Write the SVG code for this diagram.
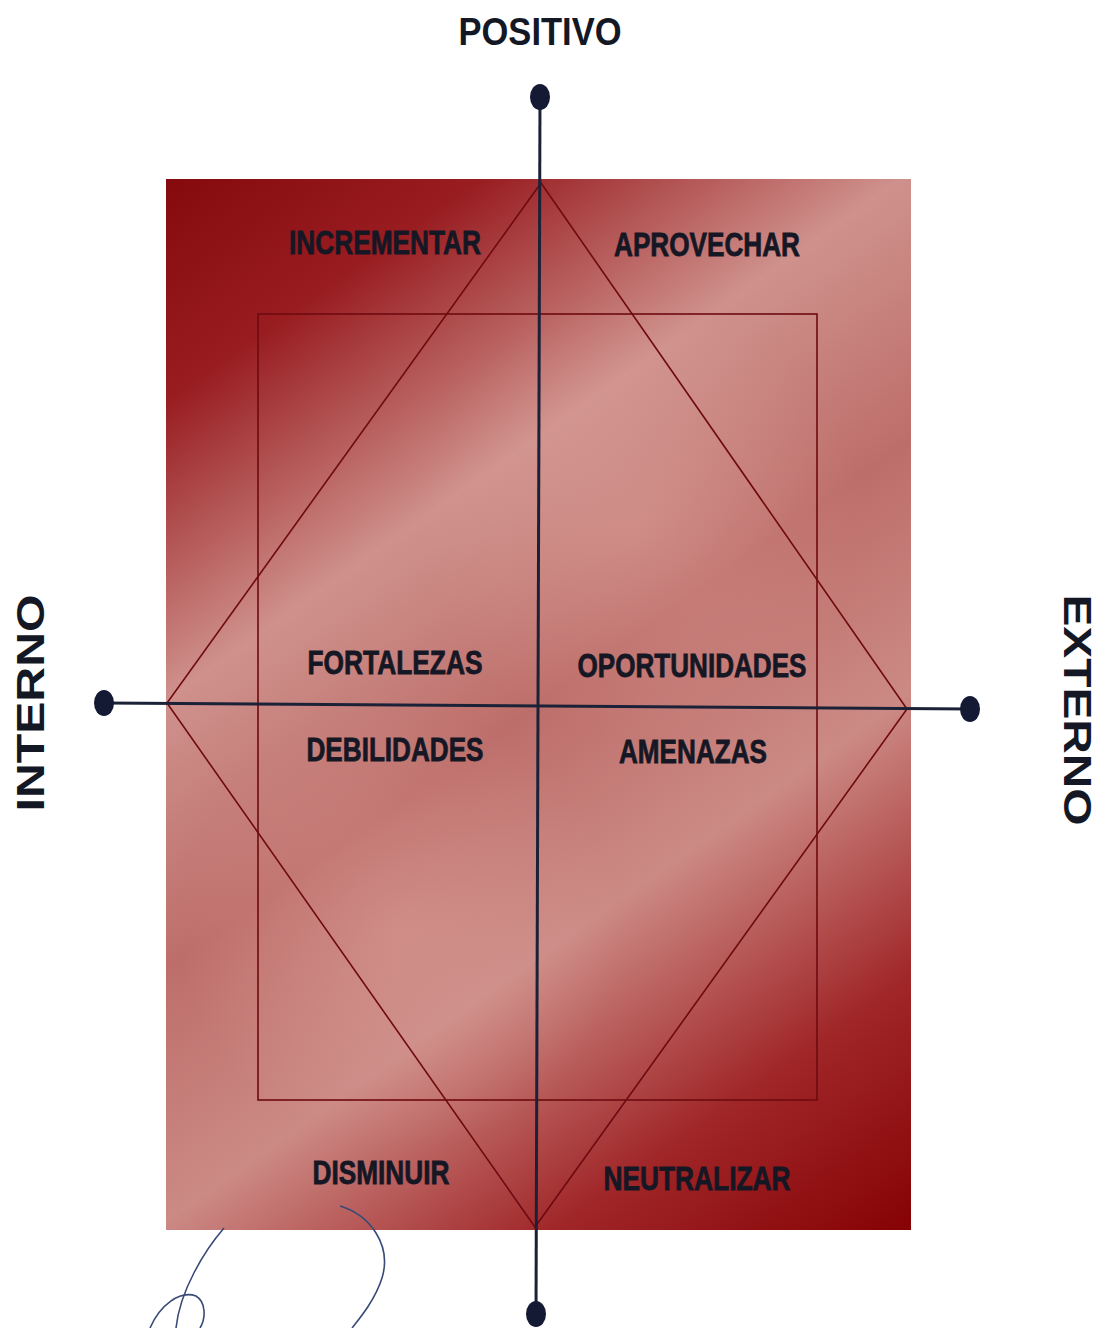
<svg xmlns="http://www.w3.org/2000/svg" width="1102" height="1328" viewBox="0 0 1102 1328">
<defs>
<linearGradient id="bg" x1="166" y1="179" x2="911" y2="1230" gradientUnits="userSpaceOnUse">
<stop offset="0" stop-color="#850a0e"/>
<stop offset="0.14" stop-color="#981c20"/>
<stop offset="0.33" stop-color="#cf918c"/>
<stop offset="0.5" stop-color="#bd6e6a"/>
<stop offset="0.66" stop-color="#cc8a85"/>
<stop offset="0.84" stop-color="#a02628"/>
<stop offset="1" stop-color="#860204"/>
</linearGradient>
<radialGradient id="glow" cx="640" cy="520" r="220" gradientUnits="userSpaceOnUse">
<stop offset="0" stop-color="#e3aaa4" stop-opacity="0.35"/>
<stop offset="1" stop-color="#e3aaa4" stop-opacity="0"/>
</radialGradient>
<radialGradient id="glow2" cx="400" cy="930" r="220" gradientUnits="userSpaceOnUse">
<stop offset="0" stop-color="#e3aaa4" stop-opacity="0.35"/>
<stop offset="1" stop-color="#e3aaa4" stop-opacity="0"/>
</radialGradient>
</defs>
<style>
.lbl{font-family:"Liberation Sans",Arial,sans-serif;font-weight:bold;font-size:33px;fill:#161724;stroke:#161724;stroke-width:0.8;text-anchor:middle}
.ax{font-family:"Liberation Sans",Arial,sans-serif;font-weight:bold;font-size:38px;fill:#141824;text-anchor:middle}
.thin{fill:none;stroke:#6e0a10;stroke-width:1.6}
.axis{fill:none;stroke:#1b2238;stroke-width:3}
.dot{fill:#141a33}
.sig{fill:none;stroke:#3a4a78;stroke-width:1.6}
</style>
<rect width="1102" height="1328" fill="#ffffff"/>
<g id="panel">
<rect x="166" y="179" width="745" height="1051" fill="url(#bg)"/>
<rect x="166" y="179" width="745" height="1051" fill="url(#glow)"/>
<rect x="166" y="179" width="745" height="1051" fill="url(#glow2)"/>
<rect class="thin" x="258" y="314" width="559" height="786"/>
<polygon class="thin" points="541,183 907,709 535,1227 167,703"/>
</g>
<g id="connectors">
<line class="axis" x1="540" y1="97" x2="536" y2="1315"/>
<line class="axis" x1="104" y1="703" x2="970" y2="709"/>
</g>
<g id="dots">
<ellipse class="dot" cx="540" cy="97" rx="10" ry="13"/>
<ellipse class="dot" cx="536" cy="1314" rx="10" ry="13"/>
<ellipse class="dot" cx="104" cy="703" rx="10" ry="13"/>
<ellipse class="dot" cx="970" cy="709" rx="10" ry="13"/>
</g>
<g id="axis-labels">
<text class="ax" x="540" y="45" textLength="163" lengthAdjust="spacingAndGlyphs">POSITIVO</text>
<text class="ax" transform="translate(44,703) rotate(-90)" x="0" y="0" textLength="217" lengthAdjust="spacingAndGlyphs">INTERNO</text>
<text class="ax" transform="translate(1064,710) rotate(90)" x="0" y="0" textLength="231" lengthAdjust="spacingAndGlyphs">EXTERNO</text>
</g>
<g id="n-incrementar"><text class="lbl" x="385" y="254" textLength="192" lengthAdjust="spacingAndGlyphs">INCREMENTAR</text></g>
<g id="n-aprovechar"><text class="lbl" x="707" y="256" textLength="186" lengthAdjust="spacingAndGlyphs">APROVECHAR</text></g>
<g id="n-fortalezas"><text class="lbl" x="395" y="674" textLength="175" lengthAdjust="spacingAndGlyphs">FORTALEZAS</text></g>
<g id="n-oportunidades"><text class="lbl" x="692" y="677" textLength="229" lengthAdjust="spacingAndGlyphs">OPORTUNIDADES</text></g>
<g id="n-debilidades"><text class="lbl" x="395" y="761" textLength="177" lengthAdjust="spacingAndGlyphs">DEBILIDADES</text></g>
<g id="n-amenazas"><text class="lbl" x="693" y="763" textLength="148" lengthAdjust="spacingAndGlyphs">AMENAZAS</text></g>
<g id="n-disminuir"><text class="lbl" x="381" y="1184" textLength="137" lengthAdjust="spacingAndGlyphs">DISMINUIR</text></g>
<g id="n-neutralizar"><text class="lbl" x="697" y="1190" textLength="187" lengthAdjust="spacingAndGlyphs">NEUTRALIZAR</text></g>
<g id="signature">
<path class="sig" d="M224,1228 C205,1250 180,1290 176,1328"/>
<path class="sig" d="M150,1328 C160,1305 180,1290 196,1296 C206,1302 206,1318 200,1328"/>
<path class="sig" d="M340,1206 C370,1215 392,1245 382,1278 C375,1300 360,1318 352,1328"/>
</g>
</svg>
